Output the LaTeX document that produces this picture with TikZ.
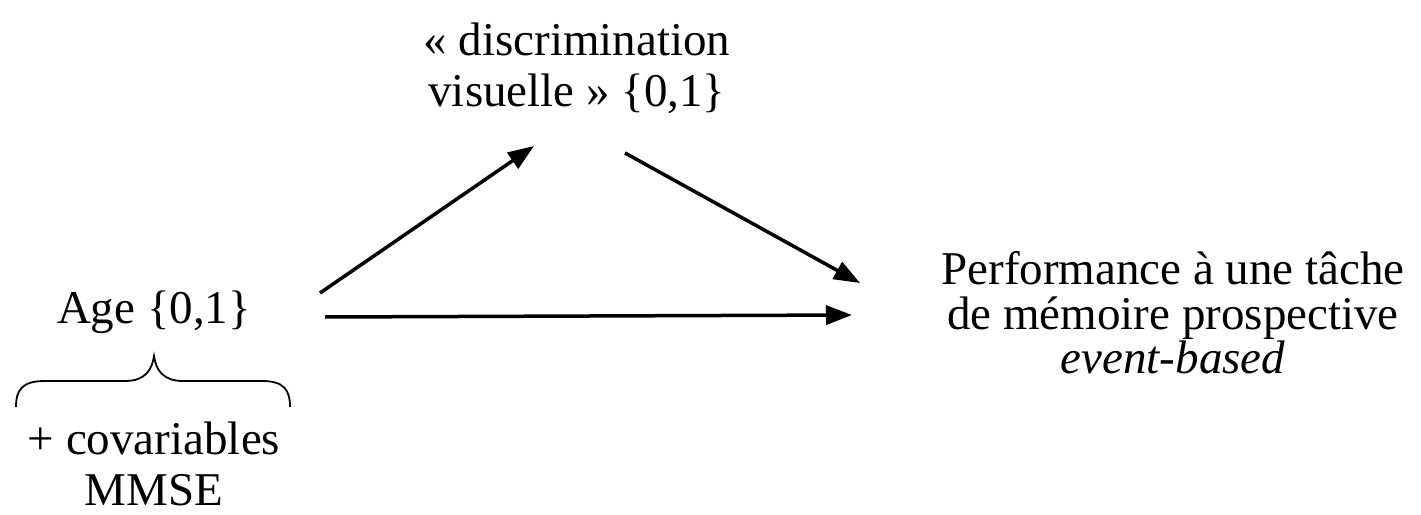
\documentclass[tikz,border=0pt]{standalone}
\usepackage{fontspec}
\setmainfont{Liberation Serif}
\usetikzlibrary{arrows.meta}
\begin{document}
\begin{tikzpicture}[x=1pt,y=-1pt,
  lbl/.style={align=center, inner sep=0pt, font=\fontsize{47}{51}\selectfont},
  lbltight/.style={align=center, inner sep=0pt, font=\fontsize{47}{44.5}\selectfont},
  arr/.style={line width=3.5pt, -{Triangle[length=26pt,width=19pt]}},
  bracepath/.style={line width=1.8pt}]
\useasboundingbox (0,0) rectangle (1421,514);
\node[lbl] (disc) at (577,68) {« discrimination\\visuelle » \{0,1\}};
\node[lbl] (age) at (154,312) {Age \{0,1\}};
\node[lbltight] (perf) at (1173,313) {Performance à une tâche\\de mémoire prospective\\\textit{event-based}};
\node[lbl] (cov) at (154,464) {+ covariables\\MMSE};
\coordinate (a1s) at (320,293);
\coordinate (a1e) at (534,146);
\coordinate (a2s) at (625,153);
\coordinate (a2e) at (860,283);
\coordinate (a3s) at (325,317);
\coordinate (a3e) at (852,315);
\draw[arr] (a1s) -- (a1e);
\draw[arr] (a2s) -- (a2e);
\draw[arr] (a3s) -- (a3e);
\draw[bracepath] (16,407) .. controls (16,390) and (22,381) .. (45,381) -- (125,381)
  .. controls (145,381) and (152,370) .. (154,356)
  .. controls (156,370) and (163,381) .. (183,381) -- (262,381)
  .. controls (284,381) and (290,390) .. (290,407);
\end{tikzpicture}
\end{document}
